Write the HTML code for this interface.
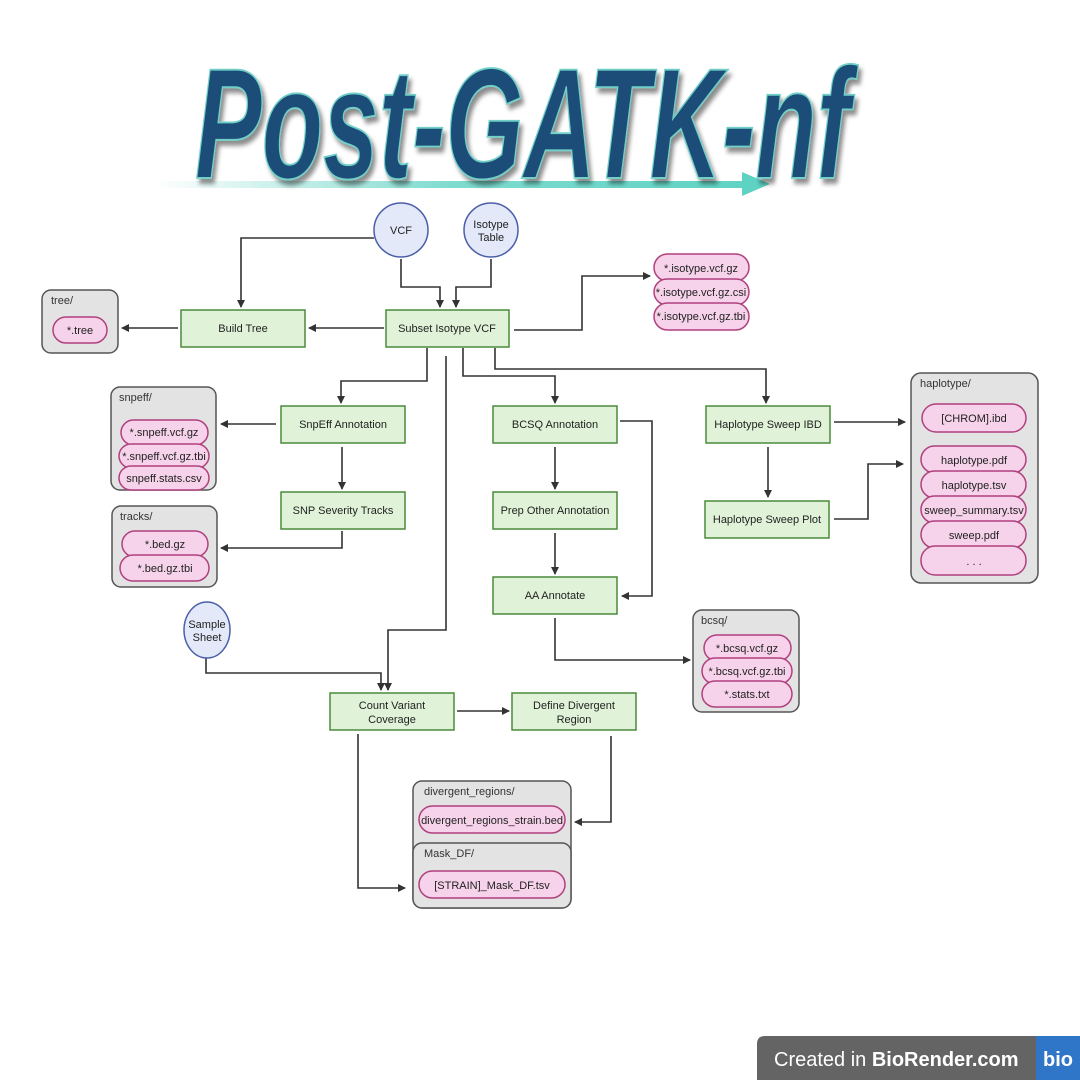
<!DOCTYPE html>
<html><head><meta charset="utf-8"><style>
html,body{margin:0;padding:0;background:#fff;}
svg{display:block;}
text{font-family:"Liberation Sans",sans-serif;}
</style></head><body>
<svg width="1080" height="1080" viewBox="0 0 1080 1080" xmlns="http://www.w3.org/2000/svg">
<defs>
<marker id="a" markerWidth="8" markerHeight="8" refX="7" refY="4" orient="auto" markerUnits="userSpaceOnUse"><path d="M0,0 L8,4 L0,8 z" fill="#333"/></marker>
<linearGradient id="g" x1="0" x2="1"><stop offset="0" stop-color="#5fd3c3" stop-opacity="0"/><stop offset="0.5" stop-color="#5fd3c3" stop-opacity="0.8"/><stop offset="1" stop-color="#5fd3c3"/></linearGradient>
<filter id="sh"><feDropShadow dx="3" dy="4" stdDeviation="2" flood-color="#000" flood-opacity="0.45"/></filter>
</defs>

<!-- title -->
<rect x="155" y="181" width="590" height="7" fill="url(#g)"/>
<path d="M742,172 L770,184 L742,196 z" fill="#5fd3c3"/>
<g transform="translate(0,178) scale(1,1.25) translate(0,-178)">
<text x="195" y="178" font-size="126" font-weight="bold" font-style="italic" fill="#1f4e79" stroke="#6fd0c8" stroke-width="1.5" textLength="655" lengthAdjust="spacingAndGlyphs" filter="url(#sh)">Post-GATK-nf</text>
</g>

<g stroke="#333" stroke-width="1.6" fill="none">
<path d="M374,238 H241 V307" marker-end="url(#a)"/>
<path d="M401,259 V287 H440 V307" marker-end="url(#a)"/>
<path d="M491,259 V287 H456 V307" marker-end="url(#a)"/>
<path d="M384,328 H309" marker-end="url(#a)"/>
<path d="M178,328 H122" marker-end="url(#a)"/>
<path d="M514,330 H582 V276 H650" marker-end="url(#a)"/>
<path d="M427,348 V381 H341 V403" marker-end="url(#a)"/>
<path d="M446,356 V630 H388 V690" marker-end="url(#a)"/>
<path d="M463,348 V376 H555 V403" marker-end="url(#a)"/>
<path d="M495,348 V369 H766 V403" marker-end="url(#a)"/>
<path d="M276,424 H221" marker-end="url(#a)"/>
<path d="M342,447 V489" marker-end="url(#a)"/>
<path d="M342,531 V548 H221" marker-end="url(#a)"/>
<path d="M555,447 V489" marker-end="url(#a)"/>
<path d="M555,533 V574" marker-end="url(#a)"/>
<path d="M620,421 H652 V596 H622" marker-end="url(#a)"/>
<path d="M555,618 V660 H690" marker-end="url(#a)"/>
<path d="M834,422 H905" marker-end="url(#a)"/>
<path d="M768,447 V497" marker-end="url(#a)"/>
<path d="M834,519 H868 V464 H903" marker-end="url(#a)"/>
<path d="M206,658 V673 H381 V690" marker-end="url(#a)"/>
<path d="M457,711 H509" marker-end="url(#a)"/>
<path d="M358,734 V888 H405" marker-end="url(#a)"/>
<path d="M611,736 V822 H575" marker-end="url(#a)"/>
</g>

<!-- circles -->
<g fill="#e3e9f8" stroke="#4a5fa8" stroke-width="1.5">
<circle cx="401" cy="230" r="27"/>
<circle cx="491" cy="230" r="27"/>
<ellipse cx="207" cy="630" rx="23" ry="28"/>
</g>
<g font-size="11" fill="#222" text-anchor="middle">
<text x="401" y="234">VCF</text>
<text x="491" y="228">Isotype</text><text x="491" y="241">Table</text>
<text x="207" y="628">Sample</text><text x="207" y="641">Sheet</text>
</g>

<!-- boxes -->
<g fill="#e0f3d8" stroke="#4a8a3a" stroke-width="1.5">
<rect x="181" y="310" width="124" height="37"/>
<rect x="386" y="310" width="123" height="37"/>
<rect x="281" y="406" width="124" height="37"/>
<rect x="281" y="492" width="124" height="37"/>
<rect x="493" y="406" width="124" height="37"/>
<rect x="493" y="492" width="124" height="37"/>
<rect x="493" y="577" width="124" height="37"/>
<rect x="706" y="406" width="124" height="37"/>
<rect x="705" y="501" width="124" height="37"/>
<rect x="330" y="693" width="124" height="37"/>
<rect x="512" y="693" width="124" height="37"/>
</g>
<g font-size="11" fill="#222" text-anchor="middle">
<text x="243" y="332">Build Tree</text>
<text x="447" y="332">Subset Isotype VCF</text>
<text x="343" y="428">SnpEff Annotation</text>
<text x="343" y="514">SNP Severity Tracks</text>
<text x="555" y="428">BCSQ Annotation</text>
<text x="555" y="514">Prep Other Annotation</text>
<text x="555" y="599">AA Annotate</text>
<text x="768" y="428">Haplotype Sweep IBD</text>
<text x="767" y="523">Haplotype Sweep Plot</text>
<text x="392" y="709">Count Variant</text><text x="392" y="723">Coverage</text>
<text x="574" y="709">Define Divergent</text><text x="574" y="723">Region</text>
</g>

<!-- folders -->
<g fill="#e3e3e3" stroke="#555" stroke-width="1.5">
<rect x="42" y="290" width="76" height="63" rx="9"/>
<rect x="111" y="387" width="105" height="103" rx="9"/>
<rect x="112" y="506" width="105" height="81" rx="9"/>
<rect x="911" y="373" width="127" height="210" rx="10"/>
<rect x="693" y="610" width="106" height="102" rx="9"/>
<rect x="413" y="781" width="158" height="127" rx="9"/>
<rect x="413" y="843" width="158" height="65" rx="9"/>
</g>
<g font-size="11" fill="#333">
<text x="51" y="304">tree/</text>
<text x="119" y="401">snpeff/</text>
<text x="120" y="520">tracks/</text>
<text x="920" y="387">haplotype/</text>
<text x="701" y="624">bcsq/</text>
<text x="424" y="795">divergent_regions/</text>
<text x="424" y="857">Mask_DF/</text>
</g>

<!-- pills -->
<g fill="#f6d3ea" stroke="#b0407e" stroke-width="1.5">
<rect x="53" y="317" width="54" height="26" rx="13"/>
<rect x="121" y="420" width="87" height="25" rx="12.5"/>
<rect x="119" y="444" width="90" height="24" rx="12"/>
<rect x="119" y="466" width="90" height="24" rx="12"/>
<rect x="122" y="531" width="86" height="26" rx="13"/>
<rect x="120" y="555" width="89" height="26" rx="13"/>
<rect x="654" y="254" width="95" height="27" rx="13.5"/>
<rect x="654" y="279" width="95" height="26" rx="13"/>
<rect x="654" y="303" width="95" height="27" rx="13.5"/>
<rect x="922" y="404" width="104" height="28" rx="14"/>
<rect x="921" y="446" width="105" height="27" rx="13.5"/>
<rect x="921" y="471" width="105" height="27" rx="13.5"/>
<rect x="921" y="496" width="105" height="27" rx="13.5"/>
<rect x="921" y="521" width="105" height="27" rx="13.5"/>
<rect x="921" y="546" width="105" height="29" rx="14"/>
<rect x="704" y="635" width="87" height="26" rx="13"/>
<rect x="702" y="658" width="90" height="26" rx="13"/>
<rect x="702" y="681" width="90" height="26" rx="13"/>
<rect x="419" y="806" width="146" height="27" rx="13.5"/>
<rect x="419" y="871" width="146" height="27" rx="13.5"/>
</g>
<g font-size="11" fill="#222" text-anchor="middle">
<text x="80" y="334">*.tree</text>
<text x="164" y="436">*.snpeff.vcf.gz</text>
<text x="164" y="460">*.snpeff.vcf.gz.tbi</text>
<text x="164" y="482">snpeff.stats.csv</text>
<text x="165" y="548">*.bed.gz</text>
<text x="165" y="572">*.bed.gz.tbi</text>
<text x="701" y="272">*.isotype.vcf.gz</text>
<text x="701" y="296">*.isotype.vcf.gz.csi</text>
<text x="701" y="320">*.isotype.vcf.gz.tbi</text>
<text x="974" y="422">[CHROM].ibd</text>
<text x="974" y="464">haplotype.pdf</text>
<text x="974" y="489">haplotype.tsv</text>
<text x="974" y="514">sweep_summary.tsv</text>
<text x="974" y="539">sweep.pdf</text>
<text x="974" y="565">. . .</text>
<text x="747" y="652">*.bcsq.vcf.gz</text>
<text x="747" y="675">*.bcsq.vcf.gz.tbi</text>
<text x="747" y="698">*.stats.txt</text>
<text x="492" y="824">divergent_regions_strain.bed</text>
<text x="492" y="889">[STRAIN]_Mask_DF.tsv</text>
</g>

<!-- badge -->
<path d="M757,1080 V1044 Q757,1036 765,1036 H1036 V1080 z" fill="#646464"/>
<rect x="1036" y="1036" width="44" height="44" fill="#2f75c8"/>
<text x="774" y="1066" font-size="20" fill="#fff">Created in <tspan font-weight="bold">BioRender.com</tspan></text>
<text x="1058" y="1066" font-size="20" font-weight="bold" fill="#fff" text-anchor="middle">bio</text>
</svg>
</body></html>
